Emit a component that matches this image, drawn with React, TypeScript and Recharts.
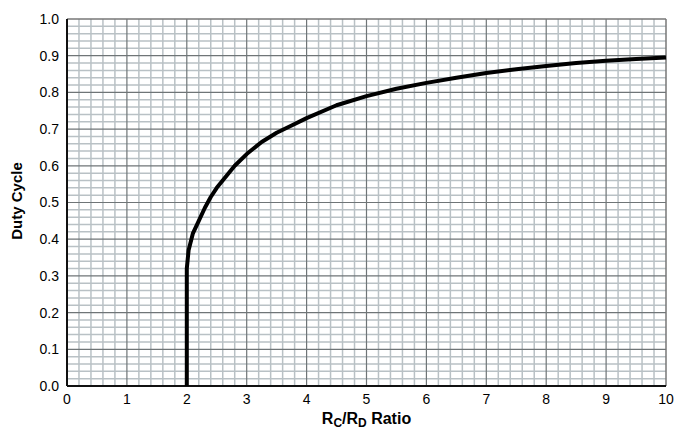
import React from "react";
import { LineChart, Line, XAxis, YAxis, ReferenceLine } from "recharts";

const ratio = [2, 2, 2.03, 2.1, 2.2, 2.3, 2.4, 2.5, 2.65, 2.8, 3.0, 3.25, 3.5, 3.75, 4, 4.5, 5, 5.5, 6, 6.5, 7, 7.5, 8, 8.5, 9, 9.5, 10];
const duty = [0, 0.32, 0.37, 0.415, 0.45, 0.485, 0.515, 0.54, 0.57, 0.6, 0.632, 0.665, 0.69, 0.71, 0.73, 0.765, 0.79, 0.81, 0.826, 0.84, 0.853, 0.863, 0.872, 0.88, 0.886, 0.891, 0.895];

const xTicks = [0, 1, 2, 3, 4, 5, 6, 7, 8, 9, 10];
const yTicks = [0, 0.1, 0.2, 0.3, 0.4, 0.5, 0.6, 0.7, 0.8, 0.9, 1.0];

const data = ratio.map((r, i) => ({ r, d: duty[i] }));

const xMinor: number[] = [];
for (let i = 1; i < 50; i++) if (i % 5 !== 0) xMinor.push(i * 0.2);
const yMinor: number[] = [];
for (let i = 1; i < 50; i++) if (i % 5 !== 0) yMinor.push(i * 0.02);

const FONT = "'Liberation Sans', Arial, Helvetica, sans-serif";
const MINOR = "#b9c1c5";
const MAJOR = "#6f7577";

const XLabel = (props: any) => {
  const vb = props.viewBox || {};
  const cx = vb.x + vb.width / 2;
  return (
    <text x={cx} y={424} textAnchor="middle" fontFamily={FONT} fontWeight="bold" fontSize={16} fill="#000">
      <tspan>R</tspan>
      <tspan fontSize={12} dy={3}>C</tspan>
      <tspan dy={-3}>/R</tspan>
      <tspan fontSize={12} dy={3}>D</tspan>
      <tspan dy={-3}> Ratio</tspan>
    </text>
  );
};

const YLabel = (props: any) => {
  return (
    <text x={22} y={201} transform="rotate(-90 22 201)" textAnchor="middle" fontFamily={FONT} fontWeight="bold" fontSize={15} fill="#000">
      Duty Cycle
    </text>
  );
};

export default function App() {
  return (
    <div style={{ position: "absolute", left: 0, top: 0, background: "#fff" }}>
      <LineChart width={678} height={433} data={data} margin={{ top: 19, right: 12, left: 0, bottom: 0 }}>
        <XAxis
          dataKey="r"
          type="number"
          domain={[0, 10]}
          ticks={xTicks}
          interval={0}
          axisLine={false}
          tickLine={false}
          height={47}
          tick={{ fontSize: 14, fontFamily: FONT, fill: "#000" }}
          label={{ content: XLabel } as any}
        />
        <YAxis
          dataKey="d"
          type="number"
          domain={[0, 1]}
          ticks={yTicks}
          interval={0}
          axisLine={false}
          tickLine={false}
          width={67}
          tickFormatter={(v: number) => v.toFixed(1)}
          tick={{ fontSize: 14, fontFamily: FONT, fill: "#000" }}
          label={{ content: YLabel } as any}
        />
        {xMinor.map((v) => (
          <ReferenceLine key={"xm" + v} x={v} stroke={MINOR} strokeWidth={1.5} />
        ))}
        {yMinor.map((v) => (
          <ReferenceLine key={"ym" + v} y={v} stroke={MINOR} strokeWidth={1.5} />
        ))}
        {xTicks.slice(1, -1).map((v) => (
          <ReferenceLine key={"xM" + v} x={v} stroke={MAJOR} strokeWidth={1.2} />
        ))}
        {yTicks.slice(1, -1).map((v) => (
          <ReferenceLine key={"yM" + v} y={v} stroke={MAJOR} strokeWidth={1.2} />
        ))}
        <ReferenceLine x={10} stroke="#777" strokeWidth={1.5} />
        <ReferenceLine y={1} stroke="#777" strokeWidth={1.5} />
        <ReferenceLine x={0} stroke="#111" strokeWidth={2} />
        <ReferenceLine y={0} stroke="#111" strokeWidth={2} />
        <Line
          dataKey="d"
          type="linear"
          stroke="#000"
          strokeWidth={4}
          dot={false}
          isAnimationActive={false}
          strokeLinejoin="round"
        />
      </LineChart>
    </div>
  );
}
